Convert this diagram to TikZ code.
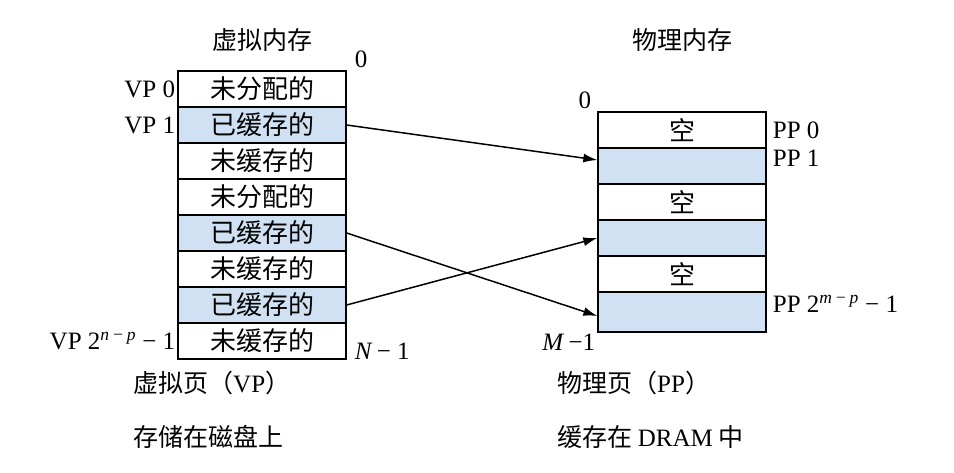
\documentclass[tikz,border=0pt]{standalone}
\usepackage{fontspec}
\usetikzlibrary{arrows.meta}
\setmainfont{Liberation Serif}
\newfontfamily\cjk{Noto Sans CJK SC}
\definecolor{cached}{HTML}{CFE1F2}
\begin{document}
\begin{tikzpicture}[x=1pt,y=-1pt,
  cell/.style={draw,line width=1.3pt,minimum width=168pt,minimum height=36pt,inner sep=0pt,font=\cjk\fontsize{26}{26}\selectfont},
  blue/.style={fill=cached},
  lab/.style={font=\fontsize{25}{25}\selectfont,inner sep=2pt},
  ctext/.style={font=\cjk\fontsize{25}{25}\selectfont,anchor=west,inner sep=0pt},
  arr/.style={line width=1.5pt,-{Latex[length=14pt,width=9pt]}}]
\useasboundingbox (0,0) rectangle (954,473);
\node[ctext,anchor=center] (vt) at (262,40) {虚拟内存};
\node[ctext,anchor=center] (pt) at (682,40) {物理内存};
% virtual
\foreach \i/\t/\s in {0/未分配的/,1/已缓存的/blue,2/未缓存的/,3/未分配的/,4/已缓存的/blue,5/未缓存的/,6/已缓存的/blue,7/未缓存的/}{
  \node[cell,\s] (v\i) at (262,{89+36*\i}) {\t};
}
% physical
\node[cell] (p0) at (682,130) {空};
\node[cell,blue] (p1) at (682,166) {};
\node[cell] (p2) at (682,202) {空};
\node[cell,blue] (p3) at (682,238) {};
\node[cell] (p4) at (682,274) {空};
\node[cell,blue,minimum height=40pt] (p5) at (682,312) {};
% labels
\node[lab,anchor=east] (l0) at (v0.west) {VP 0};
\node[lab,anchor=east] (l1) at (v1.west) {VP 1};
\node[lab,anchor=east] (l7) at (v7.west) {VP 2\textsuperscript{\itshape n\,−\,p} − 1};
\node[lab,anchor=south west] (n0) at ([xshift=6pt]v0.north east) {0};
\node[lab,anchor=west] (n1) at ([xshift=6pt,yshift=8pt]v7.south east) {\textit{N}\,− 1};
\node[lab,anchor=south east] (m0) at ([xshift=-4pt]p0.north west) {0};
\node[lab,anchor=east] (m1) at ([yshift=-10pt]p5.south west) {\textit{M}\,−1};
\node[lab,anchor=west] (q0) at ([xshift=4pt]p0.east) {PP 0};
\node[lab,anchor=west] (q1) at ([xshift=4pt,yshift=8pt]p1.east) {PP 1};
\node[lab,anchor=west] (q5) at ([xshift=4pt,yshift=8pt]p5.east) {PP 2\textsuperscript{\itshape m\,−\,p} − 1};
\node[ctext] (b1) at (133,383) {虚拟页（\textrm{VP}）};
\node[ctext] (b2) at (133,437) {存储在磁盘上};
\node[ctext] (b3) at (557,383) {物理页（\textrm{PP}）};
\node[ctext] (b4) at (557,437) {缓存在 \textrm{DRAM} 中};
% arrows
\draw[arr] (v1.east) -- ([yshift=6pt]p1.west);
\draw[arr] (v4.east) -- ([yshift=-4pt]p5.west);
\draw[arr] (v6.east) -- (p3.west);
\end{tikzpicture}
\end{document}
